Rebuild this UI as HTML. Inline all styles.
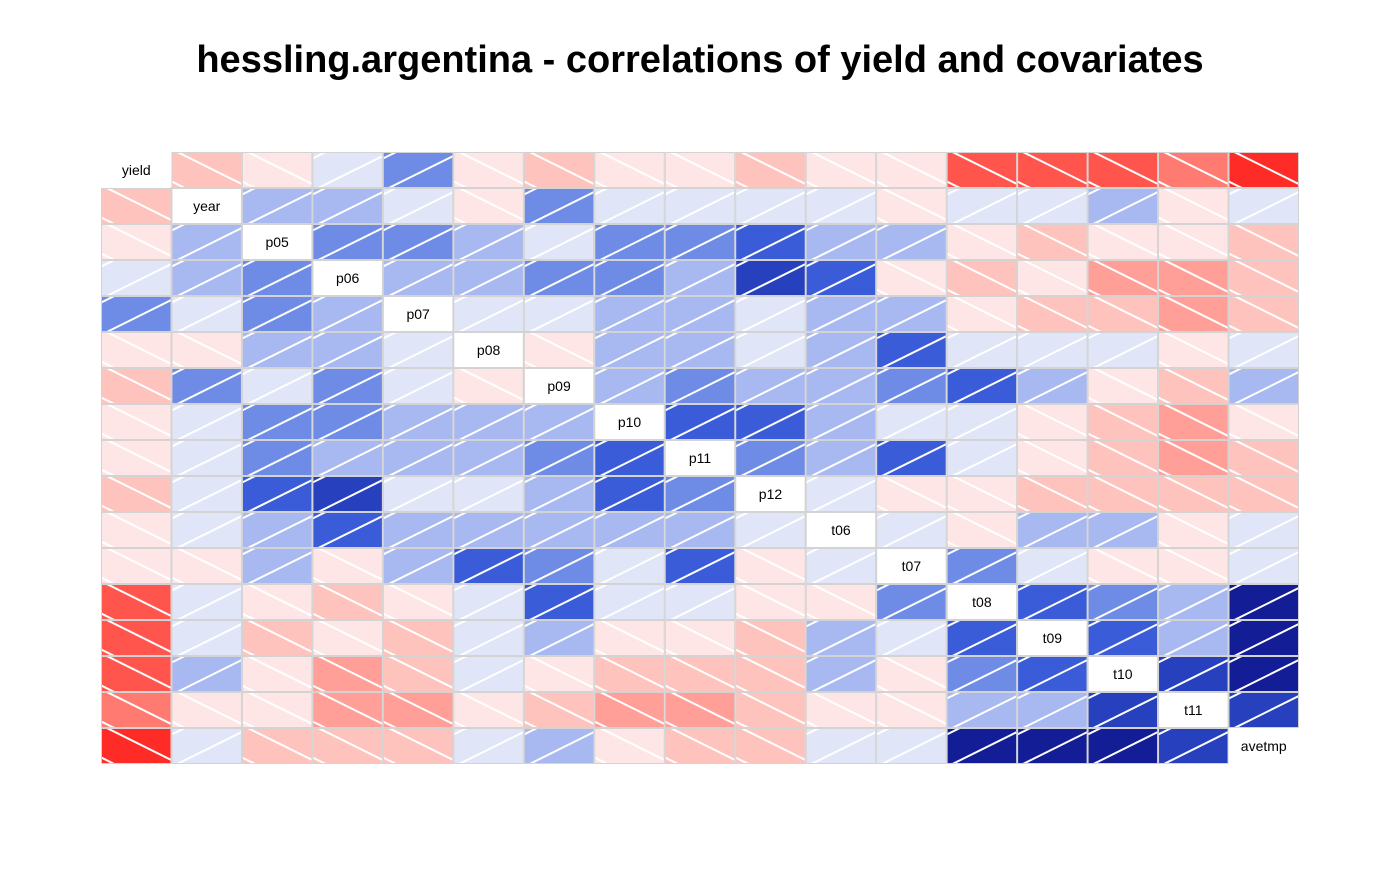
<!DOCTYPE html>
<html><head><meta charset="utf-8"><style>
body{margin:0;background:#fff;}
svg text{font-family:"Liberation Sans",Arial,sans-serif;}
</style></head><body>
<svg id="chart" width="1400" height="866" xmlns="http://www.w3.org/2000/svg">
<text x="700" y="72" text-anchor="middle" font-size="38" font-weight="bold">hessling.argentina - correlations of yield and covariates</text>
<g id="cells"></g>
</svg>
<script>
const variables = ["yield","year","p05","p06","p07","p08","p09","p10","p11","p12","t06","t07","t08","t09","t10","t11","avetmp"];
// correlation values (upper-triangle row by row, mirrored), approx read from shading
const corrRows = [
 [1,-0.25,-0.1,0.1,0.45,-0.1,-0.25,-0.1,-0.1,-0.25,-0.1,-0.1,-0.75,-0.75,-0.75,-0.6,-0.9],
 [null,1,0.25,0.25,0.1,-0.1,0.45,0.1,0.1,0.1,0.1,-0.1,0.1,0.1,0.25,-0.1,0.1],
 [null,null,1,0.45,0.45,0.25,0.1,0.45,0.45,0.6,0.25,0.25,-0.1,-0.25,-0.1,-0.1,-0.25],
 [null,null,null,1,0.25,0.25,0.45,0.45,0.25,0.75,0.6,-0.1,-0.25,-0.1,-0.45,-0.45,-0.25],
 [null,null,null,null,1,0.1,0.1,0.25,0.25,0.1,0.25,0.25,-0.1,-0.25,-0.25,-0.45,-0.25],
 [null,null,null,null,null,1,-0.1,0.25,0.25,0.1,0.25,0.6,0.1,0.1,0.1,-0.1,0.1],
 [null,null,null,null,null,null,1,0.25,0.45,0.25,0.25,0.45,0.6,0.25,-0.1,-0.25,0.25],
 [null,null,null,null,null,null,null,1,0.6,0.6,0.25,0.1,0.1,-0.1,-0.25,-0.45,-0.1],
 [null,null,null,null,null,null,null,null,1,0.45,0.25,0.6,0.1,-0.1,-0.25,-0.45,-0.25],
 [null,null,null,null,null,null,null,null,null,1,0.1,-0.1,-0.1,-0.25,-0.25,-0.25,-0.25],
 [null,null,null,null,null,null,null,null,null,null,1,0.1,-0.1,0.25,0.25,-0.1,0.1],
 [null,null,null,null,null,null,null,null,null,null,null,1,0.45,0.1,-0.1,-0.1,0.1],
 [null,null,null,null,null,null,null,null,null,null,null,null,1,0.6,0.45,0.25,0.9],
 [null,null,null,null,null,null,null,null,null,null,null,null,null,1,0.6,0.25,0.9],
 [null,null,null,null,null,null,null,null,null,null,null,null,null,null,1,0.75,0.9],
 [null,null,null,null,null,null,null,null,null,null,null,null,null,null,null,1,0.75],
 [null,null,null,null,null,null,null,null,null,null,null,null,null,null,null,null,1]
];
const bluePal = ["#E0E6F8","#A8B8F0","#6E8BE6","#3A5CD9","#2640BE","#131D96"];
const redPal = ["#FFE6E6","#FFC3BE","#FF9F98","#FF7A70","#FF554D","#FF2B27"];

const X0=101, Y0=152, W=(1299-101)/17, H=36;
const xAt = j => X0 + j*W;
const yAt = i => Y0 + i*H;
const ns="http://www.w3.org/2000/svg";
const g=document.getElementById('cells');
function corr(i,j){return i<=j?corrRows[i][j]:corrRows[j][i];}
function mk(t,a){const e=document.createElementNS(ns,t);for(const k in a)e.setAttribute(k,a[k]);return e;}
const n=variables.length;
for(let i=0;i<n;i++){for(let j=0;j<n;j++){
  const x=xAt(j)+1, y=yAt(i)+1, w=W-2, h=H-2;
  if(i===j){
    const edge=(i===0||i===n-1);
    const r=mk('rect',{x:x-1,y:y-1,width:w+2,height:h+2,fill:'#fff',stroke:edge?'none':'#d3d3d3','stroke-width':2});
    
    
    g.appendChild(r);
    const t=mk('text',{x:x+w/2,y:y+h/2+5,'text-anchor':'middle','font-size':14});
    t.textContent=variables[i];
    
    
    g.appendChild(t);
    continue;
  }
  const r=corr(i,j);
  const lvl=Math.max(1,Math.min(6,Math.ceil(Math.abs(r)*6-1e-9)));
  const col=r>=0?bluePal[lvl-1]:redPal[lvl-1];
  const cell=mk('g',{});
  
  
  const cid='c'+i+'_'+j;
  const cp=mk('clipPath',{id:cid});cp.appendChild(mk('rect',{x:x,y:y,width:w,height:h}));cell.appendChild(cp);
  cell.appendChild(mk('rect',{x:x-1,y:y-1,width:w+2,height:h+2,fill:'#d3d3d3'}));
  cell.appendChild(mk('rect',{x:x,y:y,width:w,height:h,fill:col}));
  const lg=mk('g',{'clip-path':'url(#'+cid+')',stroke:'#fff','stroke-width':2});
  const offs=[-0.1,0.85];
  for(const c of offs){
    if(r<0){
      lg.appendChild(mk('line',{x1:x-w,y1:y+h*(c-1),x2:x+2*w,y2:y+h*(c+2)}));
    } else {
      lg.appendChild(mk('line',{x1:x-w,y1:y+h*(1-c+1),x2:x+2*w,y2:y+h*(1-c-2)}));
    }
  }
  cell.appendChild(lg);
  g.appendChild(cell);
}}
</script>
</body></html>
